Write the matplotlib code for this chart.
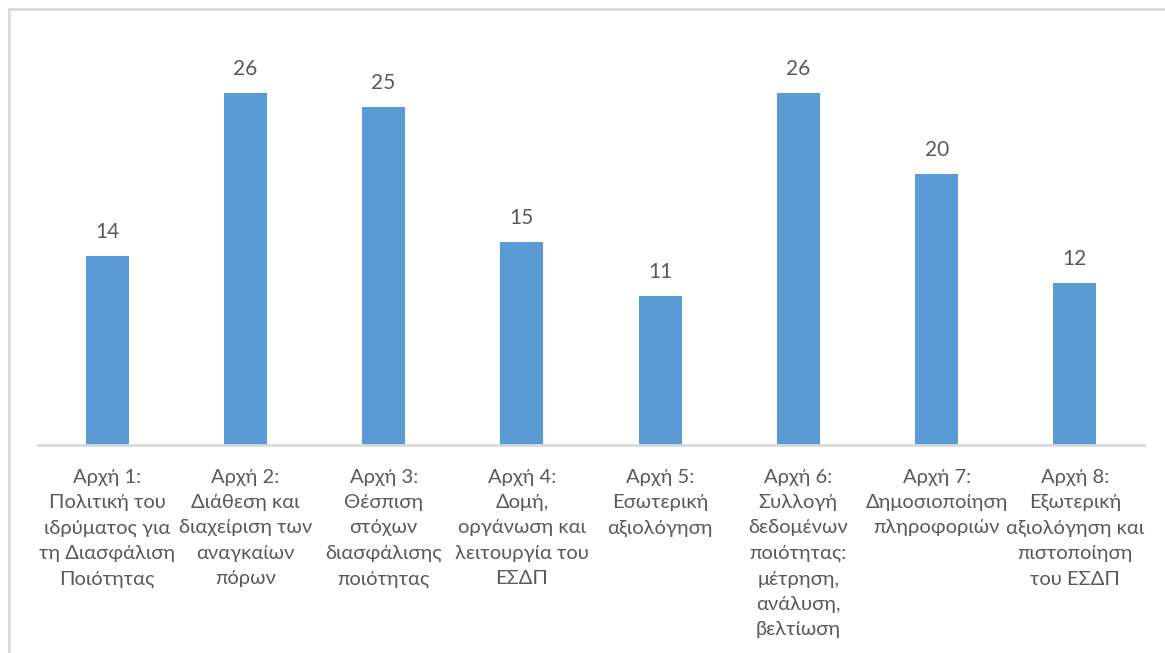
import matplotlib.pyplot as plt
import matplotlib.patches as mpatches

# ── DATA ───────────────────────────────────────────────
labels = [
    'Αρχή 1:\nΠολιτική του\nιδρύματος για\nτη Διασφάλιση\nΠοιότητας',
    'Αρχή 2:\nΔιάθεση και\nδιαχείριση των\nαναγκαίων\nπόρων',
    'Αρχή 3:\nΘέσπιση\nστόχων\nδιασφάλισης\nποιότητας',
    'Αρχή 4:\nΔομή,\nοργάνωση και\nλειτουργία του\nΕΣΔΠ',
    'Αρχή 5:\nΕσωτερική\nαξιολόγηση',
    'Αρχή 6:\nΣυλλογή\nδεδομένων\nποιότητας:\nμέτρηση,\nανάλυση,\nβελτίωση',
    'Αρχή 7:\nΔημοσιοποίηση\nπληροφοριών',
    'Αρχή 8:\nΕξωτερική\nαξιολόγηση και\nπιστοποίηση\nτου ΕΣΔΠ',
]
counts = [14, 26, 25, 15, 11, 26, 20, 12]

# ── STYLE ──────────────────────────────────────────────
plt.rcParams['font.family'] = ['Lato', 'DejaVu Sans']
bar_color = '#5B9BD5'
text_color = '#595959'
line_color = '#D9D9D9'

W, H = 1165, 653
fig = plt.figure(figsize=(W / 100, H / 100), dpi=100)

# outer chart frame (right/bottom edges run off the picture)
frame = mpatches.Rectangle((9 / W, -0.1), 1.2, 1 - 9 / H + 0.1,
                           transform=fig.transFigure, fill=False,
                           edgecolor=line_color, linewidth=2)
fig.patches.append(frame)

# plot area: x 38..1144, y 39..445 (pixels from top)
ax = fig.add_axes([38 / W, 1 - 445 / H, (1144 - 38) / W, (445 - 39) / H])

x = range(len(counts))
bars = ax.bar(x, counts, width=0.31, color=bar_color, zorder=2)
ax.set_xlim(-0.5, len(counts) - 0.5)
ax.set_ylim(0, 30)

for rect, v in zip(bars, counts):
    ax.annotate(str(v), (rect.get_x() + rect.get_width() / 2, v),
                xytext=(0, 10), textcoords='offset points',
                ha='center', va='bottom', fontsize=15, color=text_color)

ax.set_xticks(list(x))
ax.set_xticklabels(labels, fontsize=14.5, color=text_color, linespacing=1.6,
                   va='top')
ax.tick_params(axis='x', length=0, pad=17)
ax.set_yticks([])

for s in ['top', 'right', 'left']:
    ax.spines[s].set_visible(False)
ax.spines['bottom'].set_color(line_color)
ax.spines['bottom'].set_linewidth(2)

fig.savefig('out.png', dpi=100)
